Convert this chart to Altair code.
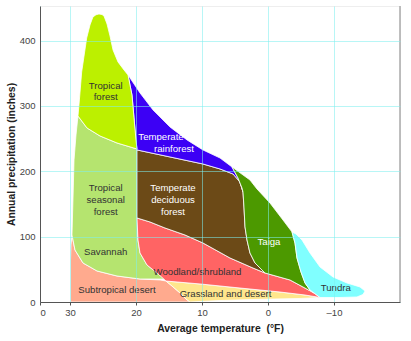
import altair as alt
import pandas as pd

# ---- biome outlines: average temperature (°) and annual precipitation ----
tropical_forest_t = [28.79, 28.64, 28.23, 27.47, 26.97, 26.52, 26.06, 25.61, 25.15, 24.85, 24.39, 23.94, 23.48, 22.73, 21.82, 21.21, 20.61, 20.30, 20.00, 19.85, 22.88, 25.45, 27.42]
tropical_forest_p = [284.7, 301.5, 352.1, 404.1, 424.0, 436.3, 439.6, 440.8, 439.9, 437.8, 425.5, 407.2, 385.7, 367.4, 355.1, 347.5, 316.9, 281.6, 248.0, 234.2, 243.4, 254.1, 266.3]

seasonal_t = [28.79, 27.42, 25.45, 22.88, 19.85, 19.85, 19.85, 19.70, 19.39, 18.33, 16.82, 15.61, 19.39, 22.88, 25.91, 28.03, 29.24, 29.70, 29.55, 29.39, 29.09]
seasonal_p = [284.7, 266.3, 254.1, 243.4, 234.2, 186.7, 128.6, 94.9, 75.0, 56.6, 44.4, 35.2, 35.2, 39.8, 47.5, 59.7, 79.6, 102.6, 156.1, 217.4, 255.6]

desert_t = [29.92, 29.92, 29.85, 29.70, 29.24, 28.03, 25.91, 22.88, 19.39, 16.36, 15.45, 14.55, 13.33, 12.42, 11.82]
desert_p = [0.0, 64.3, 87.2, 102.6, 79.6, 59.7, 47.5, 39.8, 35.2, 33.7, 32.1, 24.5, 13.8, 4.6, 0.0]

grassland_t = [15.45, 10.30, 4.24, -1.82, -5.61, -7.88, -4.85, 1.21, 7.27, 11.82, 12.42, 13.33, 14.55]
grassland_p = [32.1, 27.6, 21.4, 15.3, 10.7, 6.9, 5.4, 4.1, 2.3, 0.0, 4.6, 13.8, 24.5]

woodland_t = [19.85, 19.70, 19.39, 18.33, 16.82, 15.45, 10.30, 4.24, -1.82, -5.61, -7.88, -6.97, -5.30, -3.33, 0.45, 2.27, 5.76, 9.85, 12.58, 15.61, 17.88]
woodland_p = [128.6, 94.9, 75.0, 56.6, 44.4, 32.1, 27.6, 21.4, 15.3, 10.7, 6.9, 13.8, 23.0, 33.7, 44.4, 52.0, 67.4, 90.3, 102.6, 113.3, 122.5]

deciduous_t = [19.85, 19.85, 17.88, 15.61, 12.58, 9.85, 5.76, 2.27, 0.45, 1.97, 2.73, 3.18, 3.48, 3.64, 3.79, 4.24, 5.30, 7.27, 9.85, 14.85]
deciduous_p = [232.7, 128.6, 122.5, 113.3, 102.6, 90.3, 67.4, 52.0, 44.4, 59.7, 75.0, 94.9, 114.8, 145.4, 168.4, 183.7, 195.9, 203.6, 211.2, 222.0]

rainforest_t = [19.85, 20.00, 20.30, 20.61, 21.21, 19.39, 17.42, 14.85, 12.27, 9.85, 7.27, 5.45, 4.55, 3.94, 3.79, 4.24, 5.30, 7.27, 9.85, 14.85]
rainforest_p = [232.7, 248.0, 281.6, 316.9, 347.5, 319.9, 293.9, 267.9, 248.0, 232.7, 220.4, 206.6, 189.8, 174.5, 168.4, 183.7, 195.9, 203.6, 211.2, 222.0]

taiga_t = [5.45, 2.73, 1.67, -0.30, -2.27, -3.64, -4.09, -4.39, -5.00, -5.61, -6.36, -6.97, -5.30, -3.33, 0.45, 1.97, 2.73, 3.18, 3.48, 3.64, 3.79, 3.94, 4.55]
taiga_p = [206.6, 186.7, 173.0, 151.5, 125.5, 107.1, 90.3, 67.4, 45.9, 29.1, 18.4, 13.8, 23.0, 33.7, 44.4, 59.7, 75.0, 94.9, 114.8, 145.4, 168.4, 174.5, 189.8]

tundra_t = [-3.64, -4.09, -4.39, -5.00, -5.61, -6.36, -6.97, -7.88, -10.91, -13.48, -14.39, -14.70, -13.94, -11.97, -9.85, -7.88, -6.36, -5.15, -4.24]
tundra_p = [107.1, 90.3, 67.4, 45.9, 29.1, 18.4, 13.8, 6.9, 6.9, 7.7, 11.5, 16.8, 23.0, 29.1, 38.3, 53.6, 75.0, 94.9, 104.1]

biome_names = ["Subtropical desert", "Grassland and desert", "Tropical seasonal forest", "Woodland/shrubland",
               "Temperate deciduous forest", "Temperate rainforest", "Tropical forest", "Taiga", "Tundra"]
biome_colors = ["#ffaa8e", "#ffe68c", "#b5e46f", "#ff6464", "#6c4a17", "#3c00f5", "#bcf000", "#4c9900", "#80ffff"]
biome_outlines = [(desert_t, desert_p), (grassland_t, grassland_p), (seasonal_t, seasonal_p),
                  (woodland_t, woodland_p), (deciduous_t, deciduous_p), (rainforest_t, rainforest_p),
                  (tropical_forest_t, tropical_forest_p), (taiga_t, taiga_p), (tundra_t, tundra_p)]

# ---- labels ----
label_text = ["Tropical", "forest", "Temperate", "rainforest", "Tropical", "seasonal", "forest", "Savannah",
              "Subtropical desert", "Temperate", "deciduous", "forest", "Woodland/shrubland",
              "Grassland and desert", "Taiga", "Tundra"]
label_t = [24.59, 24.59, 16.21, 14.24, 24.59, 24.59, 24.59, 24.59, 22.88, 14.39, 14.39, 14.39, 10.68, 6.44, -0.15, -10.26]
label_p = [330.6, 313.0, 252.6, 234.2, 174.5, 156.1, 138.5, 75.8, 17.6, 174.5, 156.1, 138.5, 45.9, 13.0, 92.3, 21.0]
label_color = ["#333333", "#333333", "#ffffff", "#ffffff", "#333333", "#333333", "#333333", "#333333",
               "#333333", "#ffffff", "#ffffff", "#ffffff", "#333333", "#333333", "#ffffff", "#333333"]

x_ticks = [34.545, 30, 20, 10, 0, -10]
y_ticks = [0, 100, 200, 300, 400]
x_right_edge = [-20]

xscale = alt.Scale(domain=[-20, 34.545], reverse=True, nice=False, zero=False)
yscale = alt.Scale(domain=[0, 453], nice=False, zero=False)

FONT = "Liberation Sans"
GRID = "#7eeeee"

x_axis = alt.Axis(values=x_ticks, grid=True, gridColor=GRID, gridOpacity=0.55, gridWidth=1,
                  zindex=1, domainColor="#555555", tickColor="#555555", tickSize=3,
                  labelPadding=2, labelFont=FONT, labelFontSize=9.5, labelColor="#444444",
                  labelExpr="datum.value > 34 ? '0' : (datum.value < 0 ? '\u2013' + format(-datum.value, 'd') : format(datum.value, 'd'))",
                  title="Average temperature\u00a0 (\u00b0F)", titleFont=FONT, titleFontSize=10.4,
                  titleFontWeight="bold", titleColor="#222222", titleX=180, titleY=26,
                  titleBaseline="middle", titleAlign="center")
y_axis = alt.Axis(values=y_ticks, grid=True, gridColor=GRID, gridOpacity=0.55, gridWidth=1,
                  zindex=1, domainColor="#555555", ticks=False, labelPadding=5,
                  labelFont=FONT, labelFontSize=9.5, labelColor="#444444",
                  title="Annual precipitation (inches)", titleFont=FONT, titleFontSize=10.4,
                  titleFontWeight="bold", titleColor="#222222", titleX=-28.5, titleY=148,
                  titleAngle=270, titleBaseline="middle", titleAlign="center")

layers = []
for k, (name, color, (ts, ps)) in enumerate(zip(biome_names, biome_colors, biome_outlines)):
    df = pd.DataFrame({"t": ts, "p": ps, "i": list(range(len(ts))), "biome": name})
    if k == 0:
        xenc = alt.X("t:Q", scale=xscale, axis=x_axis)
        yenc = alt.Y("p:Q", scale=yscale, axis=y_axis)
    else:
        xenc = alt.X("t:Q", scale=xscale)
        yenc = alt.Y("p:Q", scale=yscale)
    layer = alt.Chart(df).mark_line(
        fill=color, stroke="white", strokeWidth=0.8, interpolate="linear-closed", strokeJoin="round"
    ).encode(x=xenc, y=yenc, order=alt.Order("i:Q"))
    layers.append(layer)

labels_df = pd.DataFrame({"label": label_text, "t": label_t, "p": label_p, "c": label_color})
text_layer = alt.Chart(labels_df).mark_text(
    font=FONT, fontSize=9.6, align="center", baseline="middle"
).encode(
    x=alt.X("t:Q", scale=xscale),
    y=alt.Y("p:Q", scale=yscale),
    text="label:N",
    color=alt.Color("c:N", scale=None),
)
layers.append(text_layer)

edge_df = pd.DataFrame({"t": x_right_edge})
edge_layer = alt.Chart(edge_df).mark_rule(color="#aaaaaa", strokeWidth=1.5).encode(
    x=alt.X("t:Q", scale=xscale)
)
layers.append(edge_layer)

chart = alt.layer(*layers).properties(
    width=360, height=296,
    autosize=alt.AutoSizeParams(type="none"),
    padding={"left": 40, "top": 6, "right": 11, "bottom": 39},
).configure_view(stroke="#eeeeee", strokeWidth=1)

chart.save("out.html", embed_options={"renderer": "svg", "actions": False})
